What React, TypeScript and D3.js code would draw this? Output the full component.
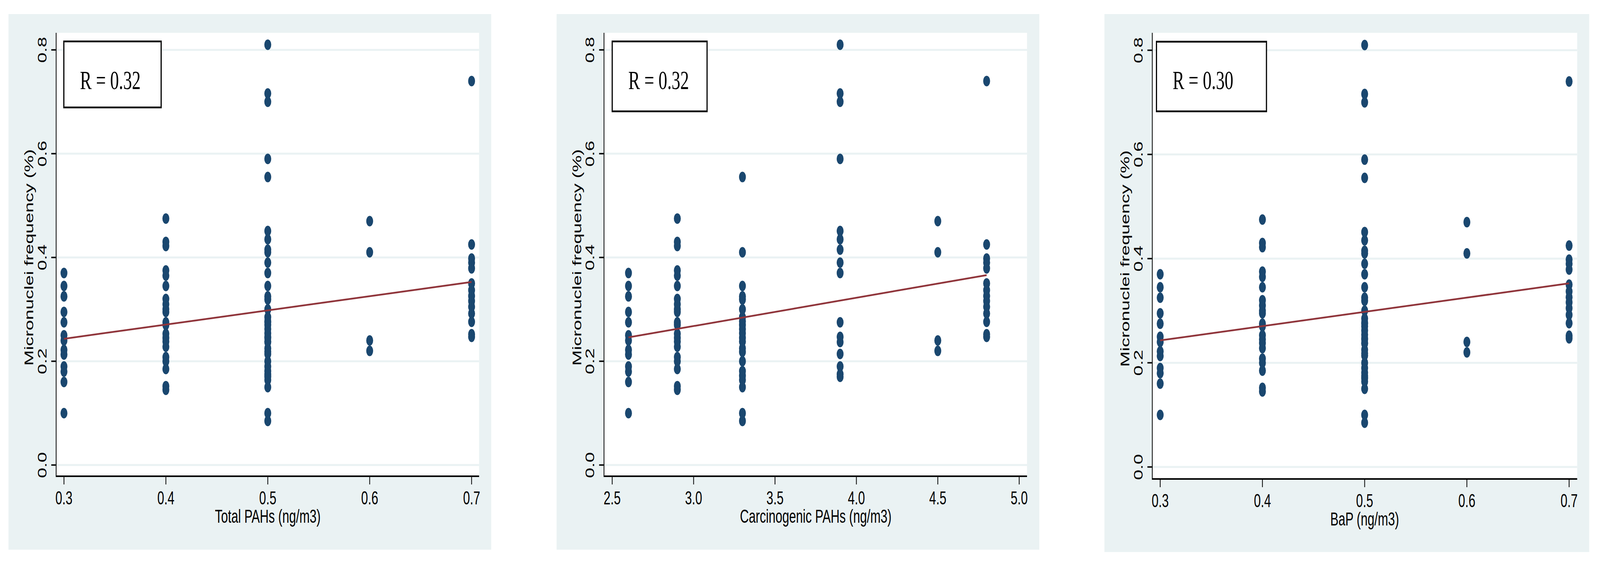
import React from 'react';
import * as d3 from 'd3';

// exposure level of each sampling group (three exposure measures)
const totalPAHs = [0.3, 0.4, 0.5, 0.5, 0.6, 0.7];
const carcinogenicPAHs = [2.6, 2.9, 3.3, 3.9, 4.5, 4.8];
const bap = [0.3, 0.4, 0.5, 0.5, 0.6, 0.7];

// micronuclei frequency (%) of the subjects in each group
const mnGroupA = [0.37, 0.345, 0.325, 0.295, 0.275, 0.25, 0.24, 0.222, 0.213, 0.19, 0.18, 0.16, 0.1];
const mnGroupB = [0.475, 0.43, 0.422, 0.375, 0.365, 0.345, 0.32, 0.31, 0.3, 0.295, 0.275, 0.27,
  0.253, 0.245, 0.238, 0.228, 0.208, 0.2, 0.185, 0.152, 0.145];
const mnGroupC = [0.555, 0.41, 0.345, 0.325, 0.319, 0.3, 0.285, 0.277, 0.27, 0.262, 0.254, 0.245,
  0.238, 0.225, 0.218, 0.2, 0.181, 0.172, 0.164, 0.15, 0.1, 0.085];
const mnGroupD = [0.81, 0.716, 0.7, 0.59, 0.451, 0.435, 0.415, 0.39, 0.37, 0.275, 0.247, 0.237,
  0.214, 0.19, 0.175, 0.17];
const mnGroupE = [0.47, 0.41, 0.24, 0.22];
const mnGroupF = [0.74, 0.425, 0.398, 0.39, 0.379, 0.35, 0.337, 0.326, 0.316, 0.305, 0.292, 0.276,
  0.252, 0.247];
const mnGroups = [mnGroupA, mnGroupB, mnGroupC, mnGroupD, mnGroupE, mnGroupF];

// axis ticks
const yTicks = [0, 0.2, 0.4, 0.6, 0.8];
const xTicksPAH = [0.3, 0.4, 0.5, 0.6, 0.7];
const xTicksCarc = [2.5, 3.0, 3.5, 4.0, 4.5, 5.0];

// fitted lines: [x0, y0, x1, y1]
const fitTotal = [0.3, 0.2433, 0.7, 0.3527];
const fitCarc = [2.6, 0.246, 4.8, 0.366];
const fitBaP = [0.3, 0.243, 0.7, 0.3525];

const xTitles = ['Total PAHs (ng/m3)', 'Carcinogenic PAHs (ng/m3)', 'BaP (ng/m3)'];
const rLabels = ['R = 0.32', 'R = 0.32', 'R = 0.30'];
const yTitle = 'Micronuclei frequency (%)';

const W = 6241;
const H = 1459;
const BG = '#eaf2f3';
const NAVY = '#1a476f';
const MAROON = '#90353b';
const SANS = '"Liberation Sans", Arial, sans-serif';
const SERIF = '"Liberation Serif", "Times New Roman", serif';

const layouts = [
  { bg: [33, 36, 1916, 1407], left: 219, right: 1868.7, top: 84, axisY: 1219, y0: 1190.3, y8: 127.7,
    xr: [249.5, 1839.5], box: [249, 106, 628.6, 275] },
  { bg: [2171, 36, 4054, 1407], left: 2356, right: 4006, top: 84, axisY: 1219, y0: 1190.3, y8: 127.7,
    xr: [2388, 3975.5], box: [2388, 106, 2758, 285] },
  { bg: [4308, 36, 6199, 1413], left: 4494.6, right: 6152, top: 84, axisY: 1226, y0: 1195.3, y8: 128.6,
    xr: [4525.5, 6120.5], box: [4511, 106.7, 4940, 285] },
];

const panels = [
  { xs: totalPAHs, ticks: xTicksPAH, fit: fitTotal },
  { xs: carcinogenicPAHs, ticks: xTicksCarc, fit: fitCarc },
  { xs: bap, ticks: xTicksPAH, fit: fitBaP },
];

const fmt = d3.format('.1f');

const Panel = ({ idx }: { idx: number }) => {
  const L: any = layouts[idx];
  const p = panels[idx];
  const x = d3.scaleLinear().domain([p.ticks[0], p.ticks[p.ticks.length - 1]]).range(L.xr);
  const y = d3.scaleLinear().domain([0, 0.8]).range([L.y0, L.y8]);
  const points = mnGroups.flatMap((g, gi) => g.map((v) => ({ x: p.xs[gi], y: v })));
  const [bx0, by0, bx1, by1] = L.box;
  const fitLine = d3.line<number[]>().x((d) => x(d[0])).y((d) => y(d[1]));
  const xMid = (L.xr[0] + L.xr[1]) / 2;
  const yMid = (L.y0 + L.y8) / 2;

  return (
    <g>
      <rect x={L.bg[0]} y={L.bg[1]} width={L.bg[2] - L.bg[0]} height={L.bg[3] - L.bg[1]} fill={BG} />
      <rect x={L.left} y={L.top} width={L.right - L.left} height={L.axisY - L.top} fill="#fff" />
      {yTicks.map((t) => (
        <line key={'g' + t} x1={L.left} x2={L.right} y1={y(t)} y2={y(t)} stroke={BG} strokeWidth={5} />
      ))}
      {/* scatter */}
      {points.map((d, i) => (
        <circle key={i} cx={x(d.x)} cy={y(d.y)} r={13.5} fill={NAVY} />
      ))}
      <path d={fitLine([[p.fit[0], p.fit[1]], [p.fit[2], p.fit[3]]]) || ''} stroke={MAROON}
        strokeWidth={4.5} fill="none" />
      {/* axes */}
      <line x1={L.left} x2={L.left} y1={L.top} y2={L.axisY + 2} stroke="#000" strokeWidth={3} />
      <line x1={L.left} x2={L.right} y1={L.axisY} y2={L.axisY} stroke="#000" strokeWidth={4} />
      {yTicks.map((t) => (
        <g key={'y' + t}>
          <line x1={L.left - 19} x2={L.left} y1={y(t)} y2={y(t)} stroke="#000" strokeWidth={3.7} />
          <text transform={`translate(${L.left - 38},${y(t)}) rotate(-90)`} textAnchor="middle"
            fontFamily={SANS} fontSize={48}>{fmt(t)}</text>
        </g>
      ))}
      {p.ticks.map((t) => (
        <g key={'x' + t}>
          <line x1={x(t)} x2={x(t)} y1={L.axisY + 2} y2={L.axisY + 21} stroke="#000" strokeWidth={3} />
          <text x={x(t)} y={L.axisY + 72} textAnchor="middle" fontFamily={SANS} fontSize={48}>
            {fmt(t)}
          </text>
        </g>
      ))}
      <text x={xMid} y={L.axisY + 119} textAnchor="middle" fontFamily={SANS} fontSize={48}>
        {xTitles[idx]}
      </text>
      <text transform={`translate(${L.left - 89},${yMid}) rotate(-90)`} textAnchor="middle"
        fontFamily={SANS} fontSize={48}>{yTitle}</text>
      {/* R box */}
      <rect x={bx0} y={by0} width={bx1 - bx0} height={by1 - by0} fill="#fff" stroke="#000" strokeWidth={4.5} />
      <text x={bx0 + 63} y={228} fontFamily={SERIF} fontSize={68}>{rLabels[idx]}</text>
    </g>
  );
};

export default function App() {
  React.useEffect(() => {
    document.body.style.margin = '0';
    document.documentElement.style.overflow = 'hidden';
  }, []);
  return (
    <svg viewBox={`0 0 ${W} ${H}`} preserveAspectRatio="none"
      style={{ display: 'block', width: '100vw', height: '100vh', background: '#fff' }}>
      {panels.map((_, i) => (
        <Panel key={i} idx={i} />
      ))}
    </svg>
  );
}
